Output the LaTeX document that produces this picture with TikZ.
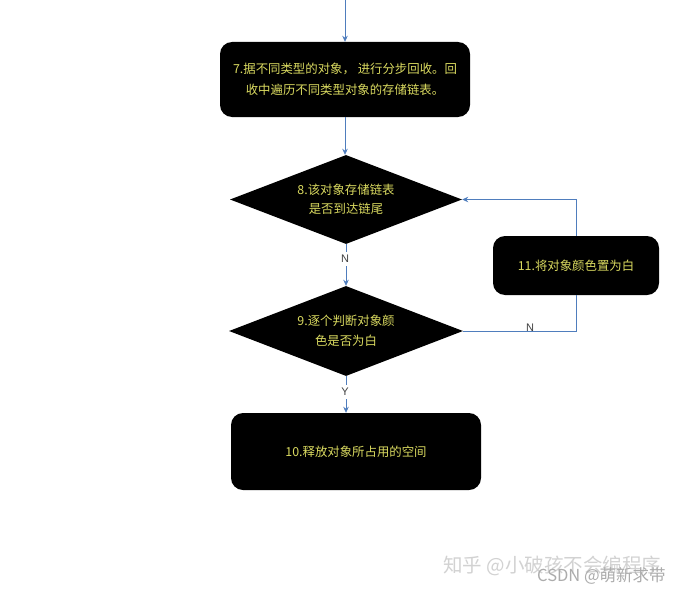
\documentclass[tikz,border=0pt]{standalone}
\usepackage{fontspec}
\setmainfont{Noto Sans CJK SC}
\setsansfont{Liberation Sans}
\usetikzlibrary{shapes.geometric,arrows.meta}
\definecolor{lineblue}{RGB}{79,125,189}
\definecolor{txtyellow}{RGB}{218,218,96}
\begin{document}
\begin{tikzpicture}[x=1pt,y=-1pt,
  procbox/.style={fill=black, rounded corners=12pt, text=txtyellow, align=center,
    font=\fontsize{12.4}{20.5}\selectfont, inner sep=0pt},
  decision/.style={diamond, fill=black, aspect=2.6, inner sep=0pt, text=txtyellow,
    align=center, font=\fontsize{12.4}{19.5}\selectfont},
  flow/.style={draw=lineblue, line width=0.8pt, -{Stealth[length=6pt,width=5.5pt]}},
  plainflow/.style={draw=lineblue, line width=0.8pt},
  lbl/.style={fill=white, font=\sffamily\fontsize{11}{11}\selectfont, text=black!75, inner sep=3pt}]
\useasboundingbox (0,0) rectangle (690,594);
\fill[white] (0,0) rectangle (690,594);

\node[procbox, minimum width=250pt, minimum height=75pt] (b7) at (345,79.5)
  {7.据不同类型的对象，~进行分步回收。回\\收中遍历不同类型对象的存储链表。};
\node[decision, minimum width=232pt, minimum height=89pt] (d8) at (346,199.5)
  {8.该对象存储链表\\是否到达链尾};
\node[decision, minimum width=234pt, minimum height=90pt] (d9) at (346,331)
  {9.逐个判断对象颜\\色是否为白};
\node[procbox, minimum width=250pt, minimum height=77pt] (b10) at (356,451.5)
  {10.释放对象所占用的空间};
\node[procbox, minimum width=166pt, minimum height=59pt] (b11) at (576,265.5)
  {11.将对象颜色置为白};

\coordinate (top) at (345,0);
\draw[flow] (top) -- (top |- b7.north);
\draw[flow] (b7.south) -- (b7.south |- d8.north);
\draw[flow] (d8.south) -- (d9.north);
\node[lbl] (n1) at (345,259) {N};
\draw[flow] (d9.south) -- (d9.south |- b10.north);
\node[lbl] (y1) at (345,392) {Y};
\draw[plainflow] (d9.east) -| (b11.south);
\draw[flow] (b11.north) |- (d8.east);
\node[font=\sffamily\fontsize{11}{11}\selectfont, text=black!75, inner sep=0pt] (n2) at (530,327.5) {N};

\node[text=gray!35, font=\fontsize{19.5}{20}\selectfont, anchor=west, inner sep=0pt] (wm1) at (443,566) {知乎 @小破孩不会编程序};
\node[text=gray!65, font=\fontsize{16.5}{17}\selectfont, anchor=west, inner sep=0pt] (wm2) at (537,576) {CSDN @萌新求带};
\end{tikzpicture}
\end{document}
